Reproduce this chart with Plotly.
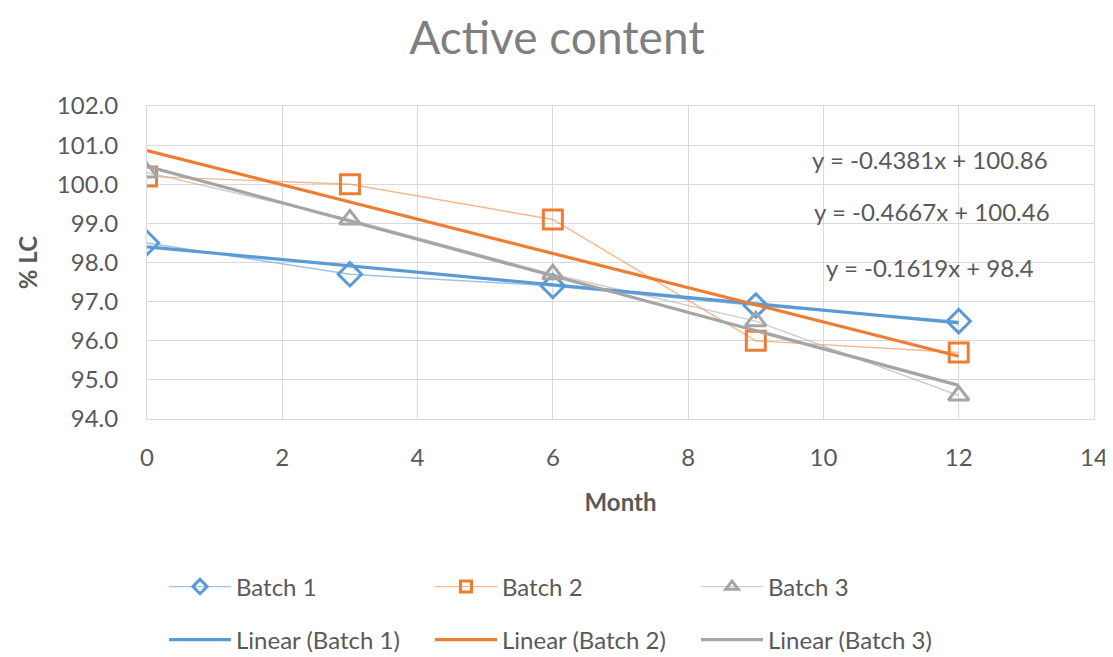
import plotly.graph_objects as go

months = [0, 3, 6, 9, 12]
batch1 = [98.5, 97.7, 97.4, 96.9, 96.5]
batch2 = [100.2, 100.0, 99.1, 96.0, 95.7]
batch3 = [100.3, 99.1, 97.7, 96.5, 94.6]
series_names = ["Batch 1", "Batch 2", "Batch 3"]
trend_slopes = [-0.1619, -0.4381, -0.4667]
trend_intercepts = [98.4, 100.86, 100.46]
x_ticks = [0, 2, 4, 6, 8, 10, 12, 14]
y_ticks = [94, 95, 96, 97, 98, 99, 100, 101, 102]

colors = ["#5B9BD5", "#ED7D31", "#A5A5A5"]
light = ["rgba(91,155,213,0.6)", "rgba(237,125,49,0.55)", "rgba(165,165,165,0.55)"]
symbols = ["diamond-open", "square-open", "triangle-up-open"]
sizes = [18, 19, 18]
FONT = "Lato"
TXT = "#595959"

fig = go.Figure()
for name, ys, c, lc, sym, sz in zip(series_names, [batch1, batch2, batch3], colors, light, symbols, sizes):
    fig.add_trace(go.Scatter(
        x=months, y=ys, name=name, mode="lines+markers",
        line=dict(color=lc, width=1.4),
        marker=dict(symbol=sym, size=sz, color=c, line=dict(color=c, width=3)),
        showlegend=False, legendgroup=name,
    ))
# legend entries with smaller symbols (as in the reference legend)
for name, c, lc, sym in zip(series_names, colors, light, symbols):
    fig.add_trace(go.Scatter(
        x=[None], y=[None], name=name, mode="lines+markers",
        line=dict(color=lc, width=1.4),
        marker=dict(symbol=sym, size=11, color=c, line=dict(color=c, width=3)),
        legend="legend", legendgroup=name,
    ))
for name, m, b, c in zip(series_names, trend_slopes, trend_intercepts, colors):
    xs = [months[0], months[-1]]
    fig.add_trace(go.Scatter(
        x=xs, y=[m * x + b for x in xs], name=f"Linear ({name})", mode="lines",
        line=dict(color=c, width=3.2), legend="legend2",
    ))

def eq(m, b):
    return f"y = {m:.4f}x + {b:g}"

eq_pos = [(11.58, 97.86), (11.58, 100.62), (11.6, 99.31)]
for (m, b), (ax, ay) in zip(zip(trend_slopes, trend_intercepts), eq_pos):
    fig.add_annotation(x=ax, y=ay, text=eq(m, b), showarrow=False,
                       font=dict(family=FONT, size=24, color=TXT), xanchor="center", yanchor="middle")

legend_common = dict(
    orientation="h", xref="container", yref="container", xanchor="left", yanchor="middle",
    font=dict(family=FONT, size=24, color=TXT), itemwidth=62, entrywidth=189,
    bgcolor="rgba(0,0,0,0)", borderwidth=0,
)

fig.update_layout(
    width=1113, height=657,
    paper_bgcolor="white", plot_bgcolor="white",
    margin=dict(l=139, r=27, t=98, b=246, autoexpand=False),
    title=dict(text="Active content", x=(557 - 8) / 1113, xanchor="center", y=1 - 30 / 657, yanchor="middle",
               font=dict(family=FONT, size=46, color="#7F7F7F")),
    font=dict(family=FONT, color=TXT),
    showlegend=True,
    legend=dict(x=156 / 1113, y=1 - 579 / 657, **legend_common),
    legend2=dict(x=156 / 1113, y=1 - 632 / 657, **legend_common),
    xaxis=dict(range=[0, 14], tickvals=x_ticks, showgrid=True, gridcolor="#D9D9D9", gridwidth=1,
               zeroline=False, showline=True, linecolor="#D9D9D9", mirror=True, automargin=False,
               ticks="", ticklabelstandoff=17, tickfont=dict(family=FONT, size=24, color=TXT),
               title=dict(text="<b>Month</b>", font=dict(family=FONT, size=24, color=TXT), standoff=24)),
    yaxis=dict(range=[94, 102], tickvals=y_ticks, tickformat=".1f", showgrid=True, gridcolor="#D9D9D9",
               zeroline=False, showline=True, linecolor="#D9D9D9", mirror=True, automargin=False,
               ticks="", ticklabelstandoff=23, tickfont=dict(family=FONT, size=24, color=TXT),
               title=dict(text="<b>% LC</b>", font=dict(family=FONT, size=24, color=TXT), standoff=12)),
)

fig.write_html("out.html")
